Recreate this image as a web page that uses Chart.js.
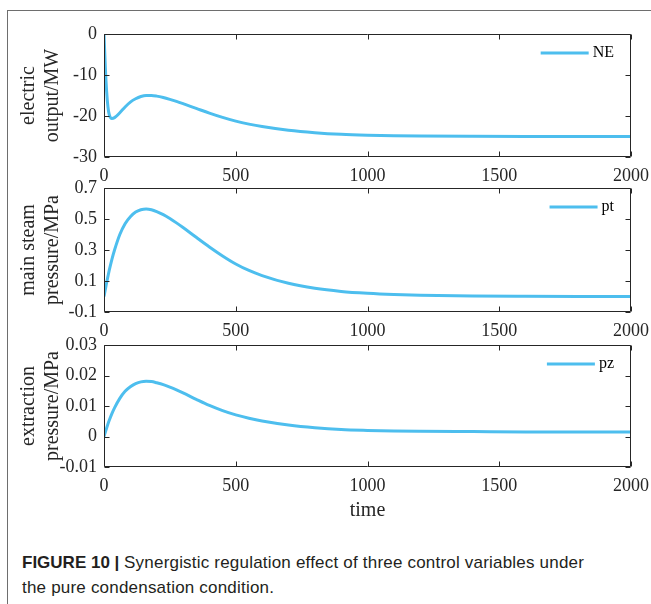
<!DOCTYPE html>
<html><head><meta charset="utf-8">
<script src="https://cdn.jsdelivr.net/npm/chart.js@4/dist/chart.umd.min.js"></script>
<style>
html,body{margin:0;padding:0;background:#fff;}
body{width:651px;height:604px;position:relative;overflow:hidden;}
.frame{position:absolute;left:7px;top:10px;width:700px;height:700px;border-top:1px solid #6e6e6e;border-left:1px solid #6e6e6e;}
canvas{position:absolute;left:0;}
.cap{position:absolute;left:22px;top:550px;font-family:"Liberation Sans",Arial,sans-serif;font-size:17px;line-height:25px;color:#231f20;white-space:nowrap;}
.cap b{font-weight:bold;}
.cap span{letter-spacing:0.2px;}
</style></head><body>
<div class="frame"></div>
<canvas id="c1" width="651" height="173" style="top:14px"></canvas>
<canvas id="c2" width="651" height="174" style="top:168px"></canvas>
<canvas id="c3" width="651" height="202" style="top:325px"></canvas>
<div class="cap"><b>FIGURE 10 |</b> <span>Synergistic regulation effect of three control variables under</span><br><span>the pure condensation condition.</span></div>
<script>
// ---- data ----
const time = [0,5,10,15,20,30,40,60,80,100,120,140,160,180,200,225,250,275,300,350,400,450,500,550,600,700,800,900,1000,1100,1200,1400,1600,1800,2000];
const NE   = [0,-8,-14,-17.8,-19.7,-20.6,-20.4,-19.2,-17.8,-16.6,-15.8,-15.25,-15.0,-15.0,-15.15,-15.5,-15.95,-16.45,-17.0,-18.15,-19.3,-20.35,-21.25,-21.98,-22.58,-23.48,-24.08,-24.48,-24.7,-24.83,-24.9,-24.96,-24.99,-25,-25];
const pt   = [0,0.045,0.09,0.13,0.17,0.24,0.30,0.40,0.47,0.515,0.545,0.56,0.565,0.56,0.548,0.528,0.503,0.475,0.445,0.382,0.32,0.262,0.21,0.168,0.135,0.085,0.053,0.033,0.021,0.013,0.008,0.003,0.001,0,0];
const pz   = [0,0.0014,0.0028,0.0041,0.0053,0.0075,0.0094,0.0125,0.0148,0.0163,0.0173,0.0179,0.0181,0.018,0.0176,0.017,0.0162,0.0153,0.0143,0.0122,0.0102,0.0085,0.0071,0.006,0.0051,0.0038,0.0029,0.0023,0.002,0.0018,0.0017,0.0016,0.0015,0.0015,0.0015];
const xTicks  = [0,500,1000,1500,2000];
const yTicks1 = [-30,-20,-10,0];
const yTicks2 = [-0.1,0.1,0.3,0.5,0.7];
const yTicks3 = [-0.01,0,0.01,0.02,0.03];
const yTitle1 = ['electric','output/MW'];
const yTitle2 = ['main steam','pressure/MPa'];
const yTitle3 = ['extraction','pressure/MPa'];
const xTitle  = 'time';

const LINE = '#4dbeee';
const AXIS = '#262626';
const SERIF = '"Liberation Serif","Times New Roman",serif';

const boxPlugin = {
  id: 'box',
  afterDraw(chart) {
    const {ctx, chartArea: a, scales: {x, y}} = chart;
    ctx.save();
    ctx.strokeStyle = AXIS;
    ctx.lineWidth = 1;
    const L = Math.round(a.left) + 0.5, R = Math.round(a.right) - 0.5;
    const T = Math.round(a.top) + 0.5, B = Math.round(a.bottom) - 0.5;
    ctx.beginPath();
    ctx.rect(L, T, R - L, B - T);
    const tl = 5;
    x.ticks.forEach(t => {
      const px = Math.round(x.getPixelForValue(t.value)) + 0.5;
      ctx.moveTo(px, B); ctx.lineTo(px, B - tl);
      ctx.moveTo(px, T); ctx.lineTo(px, T + tl);
    });
    y.ticks.forEach(t => {
      const py = Math.round(y.getPixelForValue(t.value)) + 0.5;
      ctx.moveTo(L, py); ctx.lineTo(L + tl, py);
      ctx.moveTo(R, py); ctx.lineTo(R - tl, py);
    });
    ctx.stroke();
    // legend
    const ds = chart.data.datasets[0];
    ctx.font = '16px ' + SERIF;
    ctx.fillStyle = '#000';
    ctx.textBaseline = 'middle';
    ctx.textAlign = 'right';
    const tx = a.right - 17, ty = a.top + 19;
    ctx.fillText(ds.label, tx, ty);
    const w = ctx.measureText(ds.label).width;
    ctx.strokeStyle = ds.borderColor;
    ctx.lineWidth = 3;
    ctx.beginPath();
    ctx.moveTo(tx - w - 4 - 48, ty);
    ctx.lineTo(tx - w - 4, ty);
    ctx.stroke();
    ctx.restore();
  }
};

function makeChart(id, label, values, yTicks, yTitle, withXTitle) {
  const xH = withXTitle ? 60 : 30;
  return new Chart(document.getElementById(id), {
    type: 'line',
    data: {
      datasets: [{
        label: label,
        data: time.map((t, i) => ({x: t, y: values[i]})),
        borderColor: LINE,
        borderWidth: 3,
        pointRadius: 0,
        cubicInterpolationMode: 'monotone',
        fill: false
      }]
    },
    options: {
      responsive: false,
      animation: false,
      devicePixelRatio: 1,
      layout: {padding: {left: 0, right: 20, top: 20, bottom: 0}},
      plugins: {legend: {display: false}, tooltip: {enabled: false}},
      scales: {
        x: {
          type: 'linear',
          min: xTicks[0], max: xTicks[xTicks.length - 1],
          afterBuildTicks: s => { s.ticks = xTicks.map(v => ({value: v})); },
          afterFit: s => { s.height = xH; s.paddingLeft = 0; s.paddingRight = 0; },
          grid: {display: false, drawTicks: false},
          border: {display: false},
          ticks: {padding: 8, color: AXIS, font: {family: SERIF, size: 18}, callback: v => String(v), maxRotation: 0},
          title: withXTitle ? {display: true, text: xTitle, color: AXIS, font: {family: SERIF, size: 20}, padding: {top: 0, bottom: 4}} : {display: false}
        },
        y: {
          type: 'linear',
          min: yTicks[0], max: yTicks[yTicks.length - 1],
          afterBuildTicks: s => { s.ticks = yTicks.map(v => ({value: v})); },
          afterFit: s => { s.width = 104; s.paddingTop = 0; s.paddingBottom = 0; },
          grid: {display: false, drawTicks: false},
          border: {display: false},
          ticks: {padding: 7, color: AXIS, font: {family: SERIF, size: 18}, callback: v => String(v)},
          title: {display: true, text: yTitle, color: AXIS, font: {family: SERIF, size: 20, lineHeight: 1.2}, padding: {top: 17, bottom: 0}}
        }
      }
    },
    plugins: [boxPlugin]
  });
}

makeChart('c1', 'NE', NE, yTicks1, yTitle1, false);
makeChart('c2', 'pt', pt, yTicks2, yTitle2, false);
makeChart('c3', 'pz', pz, yTicks3, yTitle3, true);
</script>
</body></html>
